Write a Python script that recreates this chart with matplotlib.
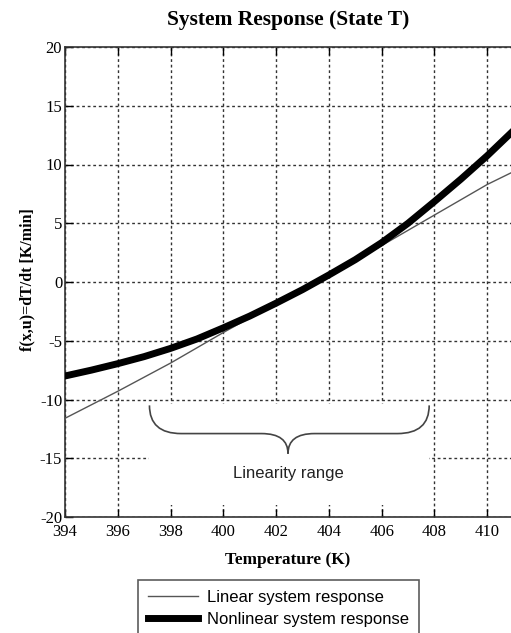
import matplotlib
matplotlib.use('Agg')
import matplotlib.pyplot as plt
from matplotlib.patches import Rectangle
from matplotlib.path import Path
from matplotlib.patches import PathPatch

plt.rcParams['axes.unicode_minus'] = False

# values
temp = [394, 395, 396, 397, 398, 399, 400, 401, 402, 403, 404, 405, 406, 407, 408, 409, 410, 411]
nonlinear = [-8.0, -7.5, -6.95, -6.35, -5.65, -4.85, -3.9, -2.9, -1.8, -0.65, 0.6, 1.9, 3.35, 5.0, 6.85, 8.75, 10.75, 12.9]
lin_temp = [394, 396, 398, 400, 402, 404, 406, 408, 410, 411]
linear = [-11.6, -9.3, -6.9, -4.3, -1.8, 0.6, 3.1, 5.7, 8.3, 9.4]
xticks = [394, 396, 398, 400, 402, 404, 406, 408, 410]
yticks = [-20, -15, -10, -5, 0, 5, 10, 15, 20]

serif = 'Liberation Serif'
sans = 'Liberation Sans'

fig = plt.figure(figsize=(5.11, 6.33), dpi=100)
ax = fig.add_axes([65 / 511, 1 - 517 / 633, 1 - 65 / 511, (517 - 47) / 633])

ax.plot(lin_temp, linear, color='#555555', lw=1.0, label='Linear system response', zorder=3)
ax.plot(temp, nonlinear, color='black', lw=5, label='Nonlinear system response', zorder=4)

ax.set_xlim(394, 410.9)
ax.set_ylim(-20, 20)
ax.set_xticks(xticks)
ax.set_yticks(yticks)
ax.set_axisbelow(True)
ax.grid(True, color='#333333', linestyle=(0, (2, 2)), lw=1.0)
ax.tick_params(direction='in', length=6, width=1, top=True, labelsize=12, pad=2)
ax.tick_params(axis='x', pad=5)
for lab in ax.get_xticklabels() + ax.get_yticklabels():
    lab.set_family(serif)
for s in ['left', 'bottom', 'top']:
    ax.spines[s].set_color('#333333')
    ax.spines[s].set_linewidth(1.2)
ax.spines['right'].set_visible(False)

# blank area behind the brace annotation
ax.add_patch(Rectangle((397.2, -19.0), 10.6, 8.6, facecolor='white', edgecolor='none', zorder=1))

# curly brace for the linearity range
x0, x1, xm = 397.2, 407.8, 402.45
yt, yb, ytip = -10.5, -12.9, -14.6
verts = [(x0, yt), (x0, yb), (x0 + 1.2, yb),
         (xm - 1.0, yb), (xm, yb), (xm, ytip),
         (xm, yb), (xm + 1.0, yb),
         (x1 - 1.2, yb), (x1, yb), (x1, yt)]
codes = [Path.MOVETO, Path.CURVE3, Path.CURVE3,
         Path.LINETO, Path.CURVE3, Path.CURVE3,
         Path.CURVE3, Path.CURVE3,
         Path.LINETO, Path.CURVE3, Path.CURVE3]
ax.add_patch(PathPatch(Path(verts, codes), facecolor='none', edgecolor='#444444', lw=1.2, zorder=2))
ax.text(xm, -16.3, 'Linearity range', ha='center', va='center', fontsize=12, family=sans, color='#222222')

ax.set_title('System Response (State T)', fontsize=15.5, fontweight='bold', family=serif, pad=16)
ax.set_xlabel('Temperature (K)', fontsize=12.4, fontweight='bold', family=serif, labelpad=9)
fig.text(27 / 511, 1 - 280 / 633, 'f(x,u)=dT/dt [K/min]', rotation=90, ha='center', va='center',
         fontsize=11.5, fontweight='bold', family=serif)

leg = fig.legend(loc='upper left', bbox_to_anchor=(138 / 511, 1 - 580 / 633), borderaxespad=0,
                 frameon=True, fancybox=False, edgecolor='#333333', handlelength=3.0,
                 prop={'family': sans, 'size': 12}, borderpad=0.6, labelspacing=0.4, handletextpad=0.55)
leg.get_frame().set_linewidth(1.2)

fig.savefig('out.png', dpi=100)
